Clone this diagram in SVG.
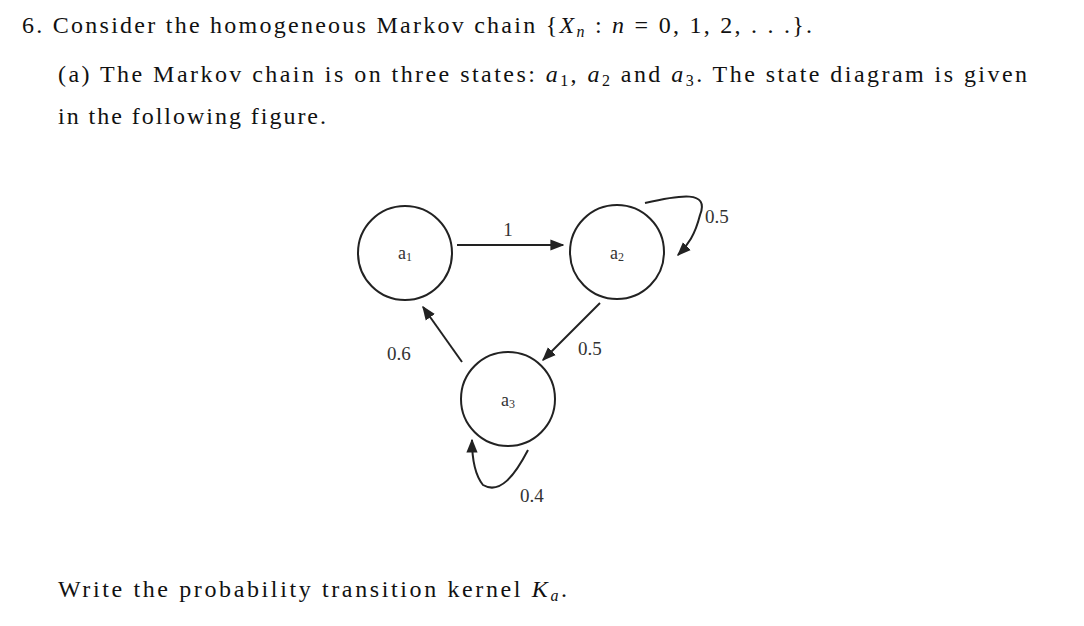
<svg xmlns="http://www.w3.org/2000/svg" width="1084" height="626" viewBox="0 0 1084 626">
<style>
.t{font-family:"Liberation Serif","DejaVu Serif",serif;font-size:24px;fill:#111}
.m{font-style:italic}
.n{fill:none;stroke:#222;stroke-width:2}
.c{fill:none;stroke:#222;stroke-width:2}
.l{font-family:"Liberation Serif",serif;font-size:19px;fill:#333}
.s{font-family:"Liberation Serif",serif;font-size:18px;fill:#333}
</style>
<defs><marker id="ah" viewBox="0 0 10 10" refX="9" refY="5" markerWidth="7" markerHeight="7" orient="auto-start-reverse"><path d="M0,1 L10,5 L0,9 z" fill="#222"/></marker></defs>
<rect width="1084" height="626" fill="#fff"/>
<text class="t" x="22" y="33" textLength="790" lengthAdjust="spacing">6. Consider the homogeneous Markov chain {<tspan class="m">X</tspan><tspan class="m" font-size="16" dy="4">n</tspan><tspan dy="-4"> : </tspan><tspan class="m">n</tspan> = 0, 1, 2, . . .}.</text>
<text class="t" x="58" y="82" textLength="969" lengthAdjust="spacing">(a) The Markov chain is on three states: <tspan class="m">a</tspan><tspan font-size="16" dy="4">1</tspan><tspan dy="-4">, </tspan><tspan class="m">a</tspan><tspan font-size="16" dy="4">2</tspan><tspan dy="-4"> and </tspan><tspan class="m">a</tspan><tspan font-size="16" dy="4">3</tspan><tspan dy="-4">. The state diagram is given</tspan></text>
<text class="t" x="58" y="124" textLength="268" lengthAdjust="spacing">in the following figure.</text>
<text class="t" x="58" y="597" textLength="509" lengthAdjust="spacing">Write the probability transition kernel <tspan class="m">K</tspan><tspan class="m" font-size="16" dy="4">a</tspan><tspan dy="-4">.</tspan></text>
<g id="a1"><circle class="n" cx="405" cy="253" r="47"/><text class="s" x="405" y="259" text-anchor="middle">a<tspan font-size="12" dy="2">1</tspan></text></g>
<g id="a2"><circle class="n" cx="617" cy="252" r="47"/><text class="s" x="617" y="259" text-anchor="middle">a<tspan font-size="12" dy="2">2</tspan></text></g>
<g id="a3"><circle class="n" cx="508" cy="399" r="47"/><text class="s" x="508" y="406" text-anchor="middle">a<tspan font-size="12" dy="2">3</tspan></text></g>
<g id="connectors">
<path class="c" d="M457,245 L563,245" marker-end="url(#ah)"/>
<path class="c" d="M645,203 C680,195 710,190 700,215 C695,235 688,245 678,255" marker-end="url(#ah)"/>
<path class="c" d="M600,303 L543,360" marker-end="url(#ah)"/>
<path class="c" d="M462,362 L423,307" marker-end="url(#ah)"/>
<path class="c" d="M528,450 C515,475 500,495 483,485 C475,475 472,460 472,440" marker-end="url(#ah)"/>
</g>
<g id="labels">
<text class="l" x="508" y="236" text-anchor="middle">1</text>
<text class="l" x="705" y="223">0.5</text>
<text class="l" x="578" y="355">0.5</text>
<text class="l" x="387" y="360">0.6</text>
<text class="l" x="520" y="502">0.4</text>
</g>
</svg>
